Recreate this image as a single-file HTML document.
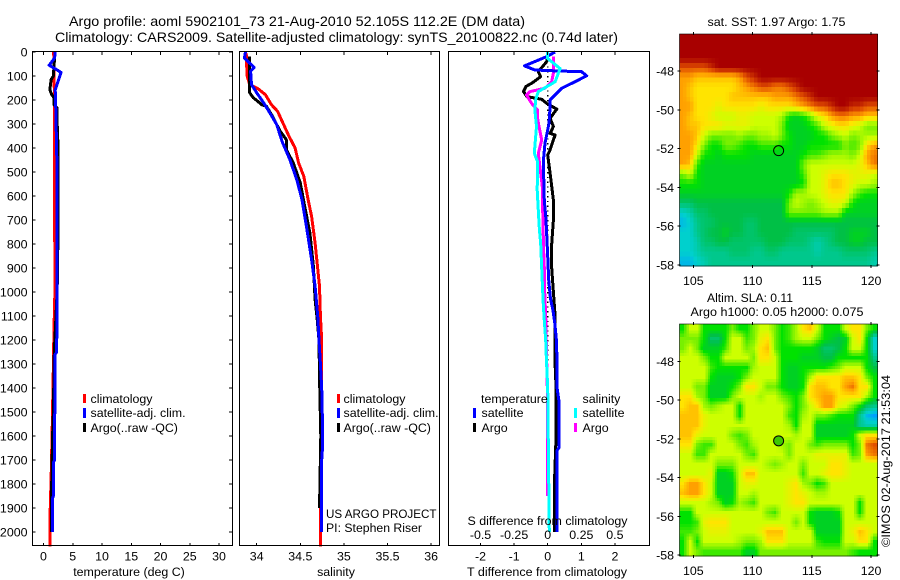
<!DOCTYPE html>
<html lang="en">
<head>
<meta charset="utf-8">
<title>Argo profile 5902101_73</title>
<style>
html,body{margin:0;padding:0;background:#fff;}
svg{display:block;font-family:"Liberation Sans",sans-serif;font-size:12.4px;fill:#000;}
text{fill:#000;}
.frame{fill:none;stroke:#000;stroke-width:1;shape-rendering:crispEdges;}
</style>
</head>
<body>
<svg id="chart" width="900" height="580" viewBox="0 0 900 580" xmlns="http://www.w3.org/2000/svg">
<text x="69" y="26" textLength="456" lengthAdjust="spacingAndGlyphs" font-size="14">Argo profile: aoml 5902101_73 21-Aug-2010 52.105S 112.2E (DM data)</text>
<text x="55" y="42" textLength="563" lengthAdjust="spacingAndGlyphs" font-size="14">Climatology: CARS2009. Satellite-adjusted climatology: synTS_20100822.nc (0.74d later)</text>

<g id="layerP1"></g>
<g id="layerP2"></g>
<g id="layerP3"></g>
<g id="layerM1"></g>
<g id="layerM2"></g>

<text x="129" y="576" text-anchor="middle">temperature (deg C)</text>
<text x="336" y="576" text-anchor="middle">salinity</text>
<text x="467" y="576" textLength="160" lengthAdjust="spacingAndGlyphs">T difference from climatology</text>
<text x="467.5" y="525" textLength="160" lengthAdjust="spacingAndGlyphs">S difference from climatology</text>

<g>
<rect x="83" y="394" width="3" height="9" fill="#f00"/>
<text x="90.5" y="403">climatology</text>
<rect x="83" y="408" width="3" height="10" fill="#00f"/>
<text x="90.5" y="417">satellite-adj. clim.</text>
<rect x="83" y="423" width="3" height="9" fill="#000"/>
<text x="90.5" y="432">Argo(..raw -QC)</text>
</g>
<g>
<rect x="337" y="394" width="3" height="9" fill="#f00"/>
<text x="343.5" y="403">climatology</text>
<rect x="337" y="408" width="3" height="10" fill="#00f"/>
<text x="343.5" y="417">satellite-adj. clim.</text>
<rect x="337" y="423" width="3" height="9" fill="#000"/>
<text x="343.5" y="432">Argo(..raw -QC)</text>
</g>
<text x="326" y="518" textLength="110.5" lengthAdjust="spacingAndGlyphs">US ARGO PROJECT</text>
<text x="326" y="532" textLength="96" lengthAdjust="spacingAndGlyphs">PI: Stephen Riser</text>

<g>
<text x="481" y="403">temperature</text>
<text x="582.5" y="403">salinity</text>
<rect x="473" y="408" width="3" height="10" fill="#00f"/>
<text x="481.5" y="417">satellite</text>
<rect x="473" y="423" width="3" height="9" fill="#000"/>
<text x="481.5" y="432">Argo</text>
<rect x="574" y="408" width="3" height="10" fill="#0ff"/>
<text x="582.5" y="417">satellite</text>
<rect x="574" y="423" width="3" height="9" fill="#f0f"/>
<text x="582.5" y="432">Argo</text>
</g>

<text x="707.5" y="26" textLength="138" lengthAdjust="spacingAndGlyphs">sat. SST: 1.97 Argo: 1.75</text>
<text x="707" y="302" textLength="86" lengthAdjust="spacingAndGlyphs">Altim. SLA: 0.11</text>
<text x="690.5" y="316" textLength="173" lengthAdjust="spacingAndGlyphs">Argo h1000: 0.05 h2000: 0.075</text>
<text transform="translate(890,547) rotate(-90)" textLength="172" lengthAdjust="spacingAndGlyphs">©IMOS 02-Aug-2017 21:53:04</text>
</svg>

<script>
// ---- axis ticks ----
var depthTicks = [0,100,200,300,400,500,600,700,800,900,1000,1100,1200,1300,1400,1500,1600,1700,1800,1900,2000];
var tempTicks = [0,5,10,15,20,25,30];
var salTicks = [34,34.5,35,35.5,36];
var tDiffTicks = [-2,-1,0,1,2];
var sDiffTicks = [-0.5,-0.25,0,0.25,0.5];
var lonTicks = [105,110,115,120];
var latTicks = [-48,-50,-52,-54,-56,-58];
var profileLon = 112.2;
var profileLat = -52.105;

// ---- temperature profiles ----
var tClimDepth = [0,160,1000,1150,1350,1550,1780,1950,2060];
var tClimVal = [1.75,1.85,1.95,1.8,1.65,1.5,1.3,1.1,1.1];
var tArgoDepth = [20,100,115,157,178,190,220,233,303,370,530,685,930,1010,1250,1500,1600,1800,2000];
var tArgoVal = [1.9,1.7,1.3,1.1,1.4,1.8,1.8,2.3,2.35,2.45,2.45,2.5,2.4,2.3,1.85,1.7,1.55,1.4,1.4];
var tSatDepth = [0,25,55,70,85,130,157,240,480,976,1250,1260,1500,1510,1700,1710,1850,1860,2000];
var tSatVal = [2.0,1.9,0.97,2.0,3.0,2.4,2.0,2.1,2.3,2.3,2.25,2.0,2.0,1.9,1.9,1.7,1.7,1.55,1.55];

// ---- salinity profiles ----
var sClimDepth = [4,100,136,154,178,220,247,303,351,400,462,518,615,685,796,976,1100,1200,1350,1800,2060];
var sClimVal = [33.88,33.89,33.92,34.02,34.10,34.17,34.24,34.31,34.37,34.44,34.48,34.54,34.59,34.63,34.67,34.72,34.73,34.745,34.745,34.73,34.73];
var sArgoDepth = [18,170,190,220,226,261,330,365,407,462,546,643,754,893,1032,1100,1200,1350,1600,1900];
var sArgoVal = [33.92,33.92,33.96,34.06,34.11,34.17,34.27,34.34,34.34,34.42,34.5,34.55,34.61,34.65,34.67,34.69,34.715,34.72,34.735,34.72];
var sSatDepth = [0,25,64,80,136,170,212,247,303,372,448,532,615,726,865,976,1100,1200,1300,1400,1550,1650,1700,2000];
var sSatVal = [33.87,33.86,33.97,33.93,33.94,34.0,34.08,34.14,34.23,34.29,34.38,34.46,34.52,34.57,34.63,34.67,34.70,34.715,34.73,34.745,34.755,34.755,34.745,34.745];

// ---- difference profiles ----
var dtArgoDepth = [20,40,82,103,126,144,165,186,197,214,238,276,311,339,346,408,429,505,617,700,800,900,1000,1100,1200,1300,1400,1600,1800,2000];
var dtArgoVal = [0.0,-0.03,-0.28,-0.21,-0.43,-0.65,-0.72,-0.62,-0.18,-0.03,0.27,0.07,0.17,0.07,0.22,0.07,0.0,0.07,0.17,0.17,0.12,0.12,0.17,0.22,0.22,0.22,0.25,0.25,0.2,0.2];
var dtSatDepth = [0,19,58,75,79,82,99,124,151,200,228,297,380,457,617,700,850,950,1025,1080,1130,1200,1300,1400,1450,1650,1660,2000];
var dtSatVal = [0.22,-0.03,-0.69,-0.38,0.32,1.01,1.16,0.81,0.42,0.07,0.07,0.04,-0.08,-0.13,-0.10,-0.05,0.0,0.03,0.08,0.16,0.21,0.26,0.28,0.28,0.33,0.33,0.28,0.28];
var dsSatDepth = [0,27,69,124,165,200,242,311,422,457,575,660,740,800,900,1000,1060,1120,1200,1250,1400,2000];
var dsSatVal = [0.0,0.0,0.092,0.055,-0.07,-0.09,-0.095,-0.083,-0.10,-0.075,-0.078,-0.07,-0.062,-0.052,-0.045,-0.037,-0.032,-0.025,-0.015,-0.012,0.0,0.012];
var dsArgoDepth = [19,89,124,151,165,179,214,242,276,311,367,422,561,617,700,800,900,1000,1100,1400,1500,1850];
var dsArgoVal = [0.042,0.042,0.03,-0.02,-0.132,-0.158,-0.12,-0.075,-0.075,-0.065,-0.045,-0.07,-0.04,-0.04,-0.035,-0.032,-0.025,-0.022,-0.015,-0.003,-0.003,-0.003];

// ---- map values (colour level 0..11), rows north to south, columns west to east ----
var sstGrid = [
[11,11,11,11,11,11,11,11,11,11,11,11,11,11,11,11,11,11,11,11,11,11,11,11,11,11,11,11],
[11,11,11,11,11,11,11,11,11,11,11,11,11,11,11,11,11,11,11,11,11,11,11,11,11,11,11,11],
[11,11,11,11,11,11,11,11,11,11,11,11,11,11,11,11,11,11,11,11,11,11,11,11,11,11,11,11],
[10,10,10,10,10.5,11,11,11,11,11,11,11,11,11,11,11,11,11,11,11,11,11,11,11,11,11,11,11],
[9,9,8.5,8.5,8.5,8.5,8.5,8.5,9,10,10.5,11,11,11,11,11,11,11,11,11,11,11,11,11,11,11,11,11],
[9,8.5,8,8,8,8,8,8,8.5,9,9.5,10,10,9.5,9.5,10,10.5,11,11,11,11,11,11,11,11,11,11,11],
[9,8.5,8,8,8,8,8,8.5,8.5,8.5,8.5,8.5,8.5,9,9,9,9.5,10,10.5,11,11,11,11,11,11,11,11,11],
[9,9,8,8,8,7.5,8,8,8,8,8,7.5,8,8,8,8,8.5,9,9.5,10,10,10.5,11,11,10.5,10.5,10,10],
[9,8.5,8,8,7.5,7,7,7,7.5,7.5,7,7,7,7,6.5,5,4.5,5,6,7.5,8,9,9.5,9.5,9,9,8.5,8.5],
[9,8.5,8.5,8,8,8,7.5,7.5,7.5,7.5,7,7,7,7,6,4.5,4.5,4.5,5,5.5,7,7.5,8,8,7.5,7,6,6],
[9,9,8.5,7,6,6,6,6,6.5,6,6,6.5,6.5,7,6,5,4.5,4.5,4.5,5,5,6,6.5,7,6,6.5,6.5,6.5],
[9,9,8,6,5,5,6,6,5.5,5,5,5.5,5.5,5.5,5,5,4.5,4.5,5,5,5,5,5,6,5.5,6,8,9],
[9,9,7,5,5,4.5,5,5,5,5,4.5,4.5,4.5,4.5,4.5,4.5,4.5,5,5.5,5.5,6,6.5,6.5,6.5,6,7,9,9.5],
[9,8.5,5.5,4.5,4.5,4.5,4.5,4.5,4.5,4.5,4.5,4.5,4.5,4.5,4.5,4.5,4.5,6,7,7,7,7,7,7,7,7.5,8.5,9.5],
[6,7,5,4.5,4.5,4.5,4.5,4.5,4.5,4.5,4.5,4.5,4.5,4.5,4.5,4.5,4.5,5.5,7,7,7.5,8,8,8,7.5,7.5,7.5,7],
[5,5,5,4.5,4.5,4.5,4.5,4.5,4.5,4.5,4.5,4.5,4.5,4.5,4.5,4.5,4.5,5,7,7,7.5,8.5,8.5,8,7.5,7,7,6.5],
[4.5,4.5,4.5,4.5,4.5,4.5,4.5,4.5,4.5,4.5,4.5,4.5,4.5,4.5,4.5,5,6.5,6.5,7,7,7.5,8,8,8,6.5,5.5,5,5],
[3.5,3.5,4,4,4,4,4,4,4,4,4,4,4,4,4,6,7,6.5,6,6.5,7,7.5,7.5,7,5,4.5,4.5,4.5],
[2,2.5,3.5,3.5,4,4,4,4,4,4,4,4,4,4,4,6,6,6,6,6,6.5,6.5,6.5,4.5,4.5,4.5,4.5,4.5],
[1.5,2,3,3.5,3.5,4,4,4,4,3.5,3.5,4,4,4,4,4,4,4,4,4,4,4,4,4,4,4,4,4],
[2,2,3,3.5,4,4,4.5,4,4,3.5,3.5,4,4,4,4,4,3.5,3.5,3.5,3.5,3.5,3.5,4,4,4.5,4.5,4.5,4],
[2,2,2.5,3.5,3.5,4,4,3.5,3.5,3.5,3.5,3.5,4,4,4,3.5,3.5,3.5,3,2.5,3,3.5,4,4,4.5,4.5,4,4],
[2,2,2.5,3,3,3,3,3.5,3.5,3.5,3,3,3.5,3.5,3,3,3,3,3,2.5,3,3,3,3.5,3.5,3.5,3.5,3],
[1.5,1.5,2,2.5,3,3,3,3,3,3,3,3,3,3,3,3,3,3,3,3,3,3,3,3,3,3,3,2.5]
];
var slaGrid = [
[5,7,7,5,5,5,5,6,5,5,6,7,7,6,5,5.5,6.5,8,8.5,7,5,5,5,7,8,8,6,5],
[6,6,6,5,3.5,3.5,5,7,7,5.5,6,7.5,8,6,5,5.5,6.5,7,7,6,5,4.5,4,4.5,7,8,5,2],
[6,7,6,4.5,4.5,4.5,5.5,7,7,6,6.5,8,8.5,6,5,5,5,5,5,4.5,3.5,3.5,4,5,7,7,5,2],
[7,7,7,6,5,5,7,7,7,7,6,8,8,7,5,5,5,4.5,4.5,4.5,4,4,5,5,5,5,5,3],
[7,7,7,7,5.5,5,5,5,5,5,6.5,7,7,7,5,4.5,4.5,5,5,5,5,5.5,6,7,7,7,5,4],
[7,7,7,7,5,4.5,4.5,4.5,5,6,7,7,7,7,5,4.5,4.5,5,6.5,8,8,8,8,8.5,8.5,8,6,5],
[7,7,6,6,4.5,4.5,4.5,5,6,8,8,7,6,6,5,4.5,4.5,5,8,8.5,8.5,8,8,9,9.5,8,8,5],
[8,8,6.5,6,4.5,4.5,4.5,6,7,7,7,6.5,7,7,6,5.5,5,6,8,8.5,9,9,8,8,8,8,6.5,5],
[8,8.5,8.5,6.5,6,6.5,7,7,5,7,7,7,7,7,7,6,5,6,7,8,9,9,7.5,7,6,5,3.5,3],
[8.5,8.5,8.5,7.5,7,7,7,7,5,7,7,7,7,7,7,5.5,5,6.5,7,6,6,5.5,5,5,5,3,1.5,1],
[8.5,8.5,8.5,7.5,7,7,7,7,7,7,7,7,7,7,7,6.5,5,7,7,4.5,4.5,4.5,4.5,4.5,4.5,3,2.5,2.5],
[8.5,8.5,7.5,7,7,7,7,6,5.5,6,7,7,7,7,7,7,6.5,7,7,4.5,4.5,4.5,4.5,4.5,5,7,8,8],
[8,8,6,5.5,5.5,7,7,7,6,5.5,6.5,7,7,7,6.5,6,7,7,6,5.5,6,6,6,6,5,6,9.5,10],
[7,7,5.5,5.5,7,7,7,7,7,6,5.5,7,7,7,7,6,7,7,7,7.5,7.5,7.5,7.5,7.5,5.5,6,9,9.5],
[7,7,7,7,7,6,6,6,7,7,7,7,6.5,6,6.5,7,7,6,7,7,7,8,8,7.5,7,7,7,7],
[7,7,7,7,7.5,4.5,4.5,5,7,8.5,8.5,7,7,7,7,7,7,5.5,7,7,7.5,8,8,7.5,7,7,7,7],
[8,9,9,8,7,4.5,4.5,4.5,7,7.5,7.5,7,7,7,7,7.5,8,6.5,6,5,5.5,7,7,7,7,7,7,7],
[8.5,9,9,8,7,4.5,4.5,4.5,7,7,6.5,7,7,7,7,7.5,8,7.5,7,6.5,6.5,7,7,7,7,7,7,7],
[7,7,7,7,6.5,6,4.5,5,6.5,6,5.5,7,7,7,7,7.5,8,8,7,7,7,7,7,7,7,5,7,7],
[5,5,7,7,7,7,7,7,7,7,7,7,6,5.5,7,7,7,7,5,4.5,4.5,4.5,5,7,7,5,7,7],
[5,5,5.5,7.5,8,8,8,7,7,7,7,7,7,7,7,7,6,7,5,4.5,4.5,4.5,4.5,7,7,7,7,7],
[5.5,5.5,6,7,7.5,7.5,7.5,7,7,7,7,7.5,8.5,8.5,8.5,7,7,7,7,4.5,4.5,4.5,4.5,7,7.5,8.5,8,7],
[5,7,5,7,7,7,7,7,6.5,6,6,6.5,8,8,8,7,7,7,7,5.5,5,5,5,7,7,8,8,5],
[5,7,6,5.5,5.5,5.5,5.5,5.5,5.5,4.5,4.5,6,6,6,6,6,6,6,6,6,6,6,6,6,5.5,5,5,5]
];

// ---- colour scale ----
var levelColors = [[0,64,255],[0,160,255],[0,208,205],[0,200,140],[0,192,70],[0,226,0],[120,240,0],[205,255,0],[255,228,0],[255,160,0],[225,80,0],[168,0,0]];

var NS = 'http://www.w3.org/2000/svg';
function make(parent, tag, attrs, name, text) {
  var el = document.createElementNS(NS, tag);
  for (var k in attrs) el.setAttribute(k, attrs[k]);
  
  
  if (text !== undefined) el.textContent = text;
  parent.appendChild(el);
  return el;
}
function levelColor(v) {
  var c = Math.max(0, Math.min(levelColors.length - 1, v));
  var a = Math.floor(c), b = Math.min(levelColors.length - 1, a + 1), f = c - a;
  var m = [0,1,2].map(function (i) { return Math.round(levelColors[a][i] + (levelColors[b][i] - levelColors[a][i]) * f); });
  return 'rgb(' + m.join(',') + ')';
}
function sampleGrid(grid, gx, gy) {
  var rows = grid.length, cols = grid[0].length;
  var x = Math.max(0, Math.min(cols - 1, gx)), y = Math.max(0, Math.min(rows - 1, gy));
  var x0 = Math.floor(x), y0 = Math.floor(y);
  var x1 = Math.min(cols - 1, x0 + 1), y1 = Math.min(rows - 1, y0 + 1);
  var fx = x - x0, fy = y - y0;
  return (grid[y0][x0] * (1 - fx) + grid[y0][x1] * fx) * (1 - fy) + (grid[y1][x0] * (1 - fx) + grid[y1][x1] * fx) * fy;
}

// ---- shared axis functions ----
function yDepth(d) { return 52 + d * 0.24; }
function xTemp(t) { return 43.5 + t * 5.85; }
function xSal(s) { return 256.7 + (s - 34) * 87.2; }
function xTDiff(t) { return 547.7 + t * 33.6; }
function xSDiff(s) { return 547.7 + s * 134.4; }
function xLon(l) { return 693.3 + (l - 105) * 11.85; }
function yLatA(l) { return 71 + (-48 - l) * 19.4; }
function yLatB(l) { return 361.3 + (-48 - l) * 19.37; }

function drawLine(g, depths, vals, xf, color, name, width) {
  var pts = depths.map(function (d, i) { return xf(vals[i]).toFixed(1) + ',' + yDepth(d).toFixed(1); }).join(' ');
  make(g, 'polyline', {points: pts, fill: 'none', stroke: color, 'stroke-width': width || 3, 'stroke-linejoin': 'round', 'shape-rendering': 'crispEdges'}, name);
}
function drawFrame(g, x0, x1) {
  make(g, 'rect', {x: x0, y: 51.5, width: x1 - x0, height: 494, 'class': 'frame'}, 'plot-frame');
}
function xTickMarks(g, ticks, xf) {
  ticks.forEach(function (t) {
    make(g, 'line', {x1: xf(t), x2: xf(t), y1: 52, y2: 55, stroke: '#000', 'shape-rendering': 'crispEdges'}, 'top-tick');
    make(g, 'line', {x1: xf(t), x2: xf(t), y1: 543, y2: 545.5, stroke: '#000', 'shape-rendering': 'crispEdges'}, 'bottom-tick');
  });
}
function xTickLabels(g, ticks, xf, y) {
  ticks.forEach(function (t) {
    make(g, 'text', {x: xf(t), y: y, 'text-anchor': 'middle'}, 'x-tick-label', String(t));
  });
}

// ---- temperature panel ----
var p1 = document.getElementById('layerP1');
drawLine(p1, tClimDepth, tClimVal, xTemp, '#f00', 'temperature-climatology-line');
drawLine(p1, tArgoDepth, tArgoVal, xTemp, '#000', 'temperature-argo-line');
drawLine(p1, tSatDepth, tSatVal, xTemp, '#00f', 'temperature-satellite-line');
drawFrame(p1, 32.5, 232.5);
xTickMarks(p1, tempTicks, xTemp);
xTickLabels(p1, tempTicks, xTemp, 560.5);
depthTicks.forEach(function (d) {
  make(p1, 'line', {x1: 32.5, x2: 35.5, y1: yDepth(d), y2: yDepth(d), stroke: '#000', 'shape-rendering': 'crispEdges'}, 'depth-tick-left');
  make(p1, 'line', {x1: 229, x2: 232.5, y1: yDepth(d), y2: yDepth(d), stroke: '#000', 'shape-rendering': 'crispEdges'}, 'depth-tick-right');
  make(p1, 'text', {x: 27.5, y: yDepth(d) + 4.5, 'text-anchor': 'end'}, 'depth-tick-label', String(d));
});

// ---- salinity panel ----
var p2 = document.getElementById('layerP2');
drawLine(p2, sClimDepth, sClimVal, xSal, '#f00', 'salinity-climatology-line');
drawLine(p2, sArgoDepth, sArgoVal, xSal, '#000', 'salinity-argo-line');
drawLine(p2, sSatDepth, sSatVal, xSal, '#00f', 'salinity-satellite-line');
drawFrame(p2, 239.5, 439.5);
xTickMarks(p2, salTicks, xSal);
xTickLabels(p2, salTicks, xSal, 560.5);

// ---- difference panel ----
var p3 = document.getElementById('layerP3');
make(p3, 'line', {x1: xTDiff(0), x2: xTDiff(0), y1: yDepth(60), y2: yDepth(1300), stroke: '#000', 'stroke-width': 1.3, 'stroke-dasharray': '1.3 3.5', 'shape-rendering': 'crispEdges'}, 'zero-difference-line');
drawLine(p3, dtArgoDepth, dtArgoVal, xTDiff, '#000', 't-difference-argo-line');
drawLine(p3, dsArgoDepth, dsArgoVal, xSDiff, '#f0f', 's-difference-argo-line');
drawLine(p3, dtSatDepth, dtSatVal, xTDiff, '#00f', 't-difference-satellite-line');
drawLine(p3, dsSatDepth, dsSatVal, xSDiff, '#0ff', 's-difference-satellite-line');
drawFrame(p3, 448.5, 649.5);
xTickMarks(p3, tDiffTicks, xTDiff);
xTickLabels(p3, tDiffTicks, xTDiff, 560.5);
xTickLabels(p3, sDiffTicks, xSDiff, 539);

// ---- maps ----
function drawMap(g, grid, top, subdivide, yLat, circleFill, mapName) {
  var left = 679.5, w = 198, h = 232;
  var rows = grid.length, cols = grid[0].length;
  var nx = cols * subdivide, ny = rows * subdivide;
  var cw = w / nx, ch = h / ny;
  var cells = make(g, 'g', {'shape-rendering': 'crispEdges'}, mapName + '-cells');
  for (var r = 0; r < ny; r++) {
    for (var c = 0; c < nx; c++) {
      var gx = (c + 0.5) / subdivide - 0.5, gy = (r + 0.5) / subdivide - 0.5;
      make(cells, 'rect', {x: (left + c * cw).toFixed(2), y: (top + r * ch).toFixed(2), width: (cw + 0.4).toFixed(2), height: (ch + 0.4).toFixed(2), fill: levelColor(sampleGrid(grid, gx, gy))}, 'map-cell');
    }
  }
  make(g, 'rect', {x: left, y: top, width: w, height: h, fill: 'none', stroke: '#000', 'stroke-width': 0.6}, mapName + '-frame');
  lonTicks.forEach(function (l) {
    make(g, 'line', {x1: xLon(l), x2: xLon(l), y1: top - 2, y2: top + 1, stroke: '#000', 'shape-rendering': 'crispEdges'}, 'lon-top-tick');
    make(g, 'line', {x1: xLon(l), x2: xLon(l), y1: top + h - 1, y2: top + h + 2, stroke: '#000', 'shape-rendering': 'crispEdges'}, 'lon-bottom-tick');
    make(g, 'text', {x: xLon(l), y: top + h + 19, 'text-anchor': 'middle'}, 'lon-tick-label', String(l));
  });
  latTicks.forEach(function (l) {
    make(g, 'line', {x1: left - 2, x2: left + 1, y1: yLat(l), y2: yLat(l), stroke: '#000', 'shape-rendering': 'crispEdges'}, 'lat-left-tick');
    make(g, 'line', {x1: left + w - 1, x2: left + w + 2, y1: yLat(l), y2: yLat(l), stroke: '#000', 'shape-rendering': 'crispEdges'}, 'lat-right-tick');
    make(g, 'text', {x: 674, y: yLat(l) + 4.5, 'text-anchor': 'end'}, 'lat-tick-label', String(l));
  });
  make(g, 'circle', {cx: xLon(profileLon), cy: yLat(profileLat), r: 5, fill: circleFill, stroke: '#000', 'stroke-width': 1}, 'profile-location-marker');
}
drawMap(document.getElementById('layerM1'), sstGrid, 34, 2, yLatA, 'none', 'sst-map');
drawMap(document.getElementById('layerM2'), slaGrid, 324, 3, yLatB, '#3cc800', 'sla-map');
</script>
</body>
</html>
